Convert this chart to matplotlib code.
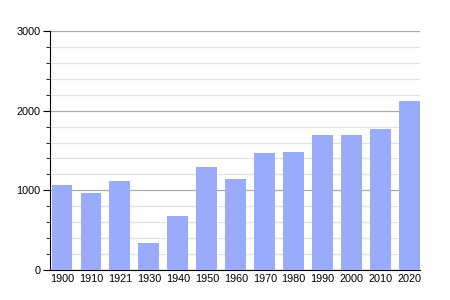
import matplotlib
matplotlib.use("Agg")
import matplotlib.pyplot as plt
from matplotlib.ticker import MultipleLocator

# Population data
years = ["1900", "1910", "1921", "1930", "1940", "1950", "1960",
         "1970", "1980", "1990", "2000", "2010", "2020"]
population = [1065, 965, 1115, 342, 680, 1295, 1140,
              1466, 1483, 1692, 1692, 1767, 2118]

plt.rcParams['font.family'] = ['Liberation Sans', 'DejaVu Sans']

fig = plt.figure(figsize=(4.5, 3), dpi=100)
ax = fig.add_axes([50 / 450, 1 - 270 / 300, 370 / 450, 239 / 300])

x = list(range(len(years)))
ax.bar(x, population, width=0.72, color='#9aabfc', zorder=3)

ax.set_xlim(-0.414, 12.36)
ax.set_ylim(0, 3000)
ax.set_xticks(x)
ax.set_xticklabels(years)
ax.yaxis.set_major_locator(MultipleLocator(1000))
ax.yaxis.set_minor_locator(MultipleLocator(200))

ax.grid(axis='y', which='major', color='#aaaaaa', linewidth=0.9, zorder=0)
ax.grid(axis='y', which='minor', color='#e2e2e2', linewidth=0.9, zorder=0)

for s in ['top', 'right']:
    ax.spines[s].set_visible(False)
ax.spines['left'].set_color('black')
ax.spines['bottom'].set_color('black')

ax.tick_params(axis='x', length=0, labelsize=7.8, pad=3)
ax.tick_params(axis='y', which='major', length=5, labelsize=7.8, pad=2)
ax.tick_params(axis='y', which='minor', length=3)

fig.savefig('out.png', dpi=100)
